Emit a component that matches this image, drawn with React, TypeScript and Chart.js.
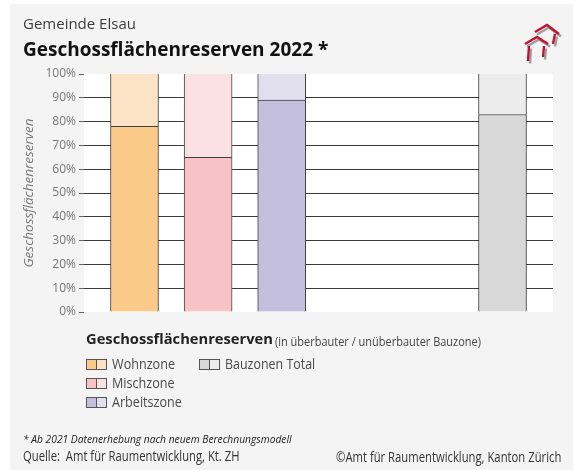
import React, { useEffect, useRef } from "react";
import { Chart, registerables } from "chart.js";

Chart.register(...registerables);

const zones = ["Wohnzone", "Mischzone", "Arbeitszone", "", "", "Bauzonen Total"];
const built = [78, 65, 89, null, null, 83];
const unbuilt = [22, 35, 11, null, null, 17];
const solidColors = ["#fbc98a", "#f8c3c6", "#c4bfdd", "#ffffff", "#ffffff", "#d8d8d8"];
const paleColors = ["#fde3c5", "#fbe1e3", "#e1dfee", "#ffffff", "#ffffff", "#ececec"];
const legendOrder = [0, 1, 2];
const FONT = '"Open Sans", sans-serif';
const INK = "#4a4a4a";

const paintPlot = {
  id: "paintPlot",
  beforeDraw(chart: any) {
    const { ctx, chartArea: a } = chart;
    ctx.save();
    ctx.fillStyle = "#ffffff";
    ctx.fillRect(a.left, a.top, a.right - a.left, a.bottom - a.top);
    ctx.restore();
  },
};

function Text({ x, y, size, children, weight = 400, color = "#3c3c3c", italic = false, sx = 1 }: any) {
  return (
    <div
      style={{
        position: "absolute",
        left: x,
        top: y,
        fontSize: size,
        fontWeight: weight,
        fontStyle: italic ? "italic" : "normal",
        color,
        lineHeight: 1,
        whiteSpace: "pre",
        transform: `scaleX(${sx})`,
        transformOrigin: "left top",
      }}
    >
      {children}
    </div>
  );
}

function Swatch({ x, y, zone }: any) {
  const box = { position: "absolute", top: y, height: 9, width: 9, border: "1px solid #555" } as const;
  return (
    <>
      <div style={{ ...box, left: x, background: solidColors[zone] }} />
      <div style={{ ...box, left: x + 10, background: paleColors[zone] }} />
    </>
  );
}

function Logo() {
  const houses = "M2 21 L14 14 L25 21 M6 23 L5 38 M21 23 L20 34 M12 9 L24 2 L36 11 M32 11 L30 21";
  return (
    <svg width="42" height="46" viewBox="0 0 42 46" style={{ position: "absolute", left: 523, top: 23 }}>
      <path d={houses} fill="none" stroke="#a0a0a0" strokeWidth="2.4" transform="translate(2 2.5)" />
      <path d={houses} fill="none" stroke="#c3122f" strokeWidth="2.4" />
    </svg>
  );
}

export default function App() {
  const canvasRef = useRef<HTMLCanvasElement>(null);

  useEffect(() => {
    const chart = new Chart(canvasRef.current!, {
      type: "bar",
      plugins: [paintPlot],
      data: {
        datasets: [
          {
            label: "überbaut",
            data: built.map((y, x) => ({ x, y })),
            backgroundColor: solidColors,
            borderColor: "#404040",
            borderWidth: { left: 1, right: 1, top: 1, bottom: 0 },
            borderSkipped: false,
            barThickness: 48,
          },
          {
            label: "unüberbaut",
            data: unbuilt.map((y, x) => ({ x, y })),
            backgroundColor: paleColors,
            borderColor: "#404040",
            borderWidth: { left: 1, right: 1, top: 0, bottom: 0 },
            borderSkipped: false,
            barThickness: 48,
          },
        ] as any,
      },
      options: {
        animation: false,
        responsive: false,
        layout: { padding: { left: 0, right: 20, top: 74, bottom: 158 } },
        plugins: { legend: { display: false }, tooltip: { enabled: false } },
        scales: {
          x: {
            type: "linear",
            stacked: true,
            display: false,
            offset: false,
            min: -0.686,
            max: 5.686,
          },
          y: {
            stacked: true,
            min: 0,
            max: 100,
            afterFit(scale: any) {
              scale.width = 84;
            },
            border: { display: false },
            grid: {
              color: (c: any) => (c.tick.value === 0 || c.tick.value === 100 ? "rgba(0,0,0,0)" : "#3a3a3a"),
              tickColor: "#666666",
              tickLength: 5,
              lineWidth: 1,
            },
            ticks: {
              stepSize: 10,
              padding: 3,
              color: "#777777",
              font: { family: FONT, size: 12 },
              callback: (v: any) => `${v}%`,
            },
            title: {
              display: true,
              text: "Geschossflächenreserven",
              color: "#777777",
              font: { family: FONT, size: 13.5, style: "italic" },
              padding: { top: 21, bottom: 0 },
            },
          },
        },
      },
    } as any);
    return () => chart.destroy();
  }, []);

  return (
    <div style={{ position: "fixed", left: 0, top: 0, width: 573, height: 470, background: "#ffffff", fontFamily: FONT, overflow: "hidden" }}>
      <div style={{ position: "absolute", left: 10, top: 4, right: 0, bottom: 0, background: "#f4f4f4" }} />
      <canvas ref={canvasRef} width={573} height={470} style={{ position: "absolute", left: 0, top: 0 }} />
      <Text x={23} y={16} size={15}>Gemeinde Elsau</Text>
      <Text x={23} y={40} size={19} weight={700} color="#111111">Geschossflächenreserven 2022 *</Text>
      <Logo />

      <Text x={86} y={331} size={15} sx={0.98} weight={700} color="#222222">Geschossflächenreserven</Text>
      <Text x={275} y={335} size={13} sx={0.845} color="#444444">(in überbauter / unüberbauter Bauzone)</Text>

      {legendOrder.map((zone, i) => (
        <React.Fragment key={zone}>
          <Swatch x={86} y={359 + i * 19} zone={zone} />
          <Text x={112} y={356 + i * 19} size={15} sx={0.84} color={INK}>{zones[zone]}</Text>
        </React.Fragment>
      ))}
      <Swatch x={199} y={359} zone={5} />
      <Text x={225} y={356} size={15} sx={0.83} color={INK}>{zones[5]}</Text>

      <Text x={23} y={434} size={10} sx={1.025} italic color="#222222">* Ab 2021 Datenerhebung nach neuem Berechnungsmodell</Text>
      <Text x={23} y={449} size={14} sx={0.805} color="#333333">Quelle:  Amt für Raumentwicklung, Kt. ZH</Text>
      <Text x={336} y={450} size={14} sx={0.805} color="#333333">©Amt für Raumentwicklung, Kanton Zürich</Text>
    </div>
  );
}
